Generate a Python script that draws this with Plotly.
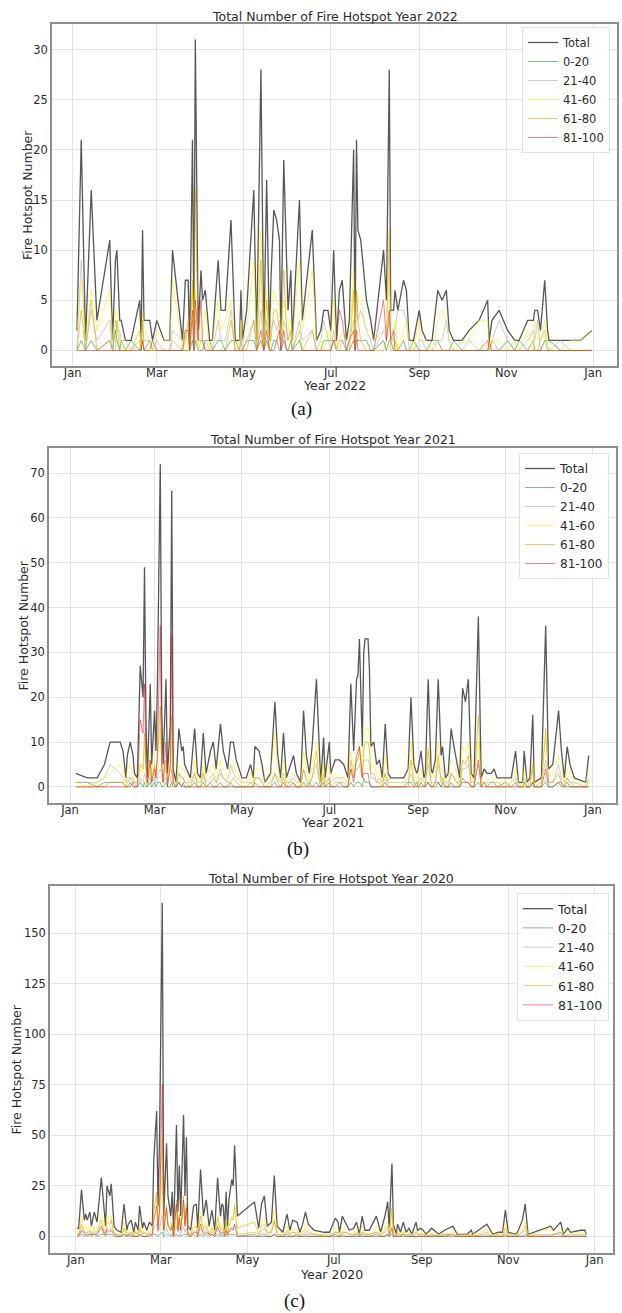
import plotly.graph_objects as go

W, H = 622, 1313

# ------------------------------------------------------------------ 2022
dates_2022 = ["01-04","01-07","01-10","01-14","01-18","01-27","01-29","01-31","02-01","02-03",
 "02-04","02-07","02-11","02-17","02-18","02-19","02-20","02-24","02-26","03-01",
 "03-06","03-10","03-12","03-19","03-21","03-23","03-24","03-26","03-27","03-28",
 "03-30","04-01","04-02","04-04","04-07","04-09","04-13","04-15","04-18","04-22",
 "04-25","04-28","04-29","04-30","05-03","05-08","05-10","05-13","05-15","05-17",
 "05-19","05-20","05-22","05-24","05-26","05-27","05-29","05-31","06-01","06-03",
 "06-04","06-09","06-11","06-18","06-21","06-24","06-26","06-29","07-01","07-03",
 "07-05","07-07","07-09","07-12","07-14","07-17","07-18","07-19","07-20","07-22",
 "07-26","07-29","07-31","08-07","08-09","08-11","08-12","08-14","08-15","08-17",
 "08-21","08-23","08-25","08-28","09-01","09-03","09-06","09-10","09-14","09-17",
 "09-20","09-22","09-25","10-01","10-06","10-13","10-19","10-20","10-22","10-27",
 "11-02","11-07","11-10","11-16","11-20","11-21","11-23","11-25","11-28","11-30",
 "12-01","12-09","12-16","12-23","12-31"]
total_2022 = [2,21,1,16,3,11,1,9,10,3, 3,1,1,5,1,12,3,3,1,3, 1,1,10,1,7,7,0,21,2,31,
 2,8,5,6,1,1,9,4,4,13, 1,1,6,1,4,16,1,28,1,17, 1,7,14,13,11,1,19,7,4,8,
 1,15,3,12,1,2,4,4,2,10, 1,6,7,1,3,20,1,21,12,11, 5,3,1,10,5,28,4,4,6,4,
 7,6,1,1,4,2,1,1,6,5, 6,2,1,1,2,3,5,1,3,4, 2,1,1,3,3,4,4,2,7,2, 1,1,1,1,2]
c0_20_2022 = [0,1,0,1,0,1,0,2,1,0, 1,0,1,0,1,1,0,1,0,0, 0,0,0,0,0,0,0,1,0,1,
 0,0,0,1,1,0,1,1,0,1, 1,0,0,0,1,1,0,1,0,1, 0,0,1,1,0,0,1,0,0,1,
 0,1,0,0,0,0,1,1,1,1, 0,0,0,0,0,1,0,1,1,1, 1,0,0,1,0,1,1,0,0,0,
 1,0,0,1,0,0,0,1,1,0, 0,0,1,0,0,0,0,0,0,0, 1,0,1,0,1,0,0,0,1,1, 1,0,0,0,0]
c21_40_2022 = [0,9,0,4,1,3,0,3,2,2, 1,1,0,2,0,3,1,1,0,1, 0,0,2,1,2,2,0,3,0,3,
 0,1,1,1,0,0,3,1,1,4, 0,0,2,0,1,3,0,4,0,3, 0,2,3,2,3,0,3,2,1,2,
 0,3,1,2,0,1,3,1,0,2, 0,0,1,0,1,3,0,6,3,4, 2,1,0,2,1,3,1,1,2,4,
 4,3,0,0,1,1,0,0,1,1, 3,1,0,0,1,0,1,0,1,3, 1,0,0,1,2,1,3,0,1,0, 0,1,0,0,0]
c41_60_2022 = [2,7,1,6,2,6,1,4,4,1, 1,0,0,2,0,4,2,1,0,2, 1,1,7,0,2,0,0,6,1,6,
 0,1,2,4,0,1,5,2,3,5, 0,1,3,1,2,9,1,12,1,6, 0,4,6,5,4,1,5,3,2,3,
 1,9,2,8,1,1,0,2,1,5, 0,1,2,1,1,8,1,6,5,5, 2,2,1,2,2,8,1,1,3,0,
 2,3,1,0,3,1,1,0,3,4, 3,1,0,1,1,3,3,0,1,1, 0,1,0,2,0,3,1,1,3,1, 0,0,1,1,2]
c61_80_2022 = [0,4,0,5,0,1,0,0,3,0, 0,0,0,1,0,3,0,0,0,0, 0,0,1,0,1,3,0,7,1,16,
 1,1,1,0,0,0,0,0,0,3, 0,0,1,0,0,3,0,9,0,5, 1,1,4,4,2,0,8,2,1,2,
 0,2,0,2,0,0,0,0,0,1, 0,1,1,0,0,6,0,6,3,1, 0,0,0,0,1,12,0,0,1,0,
 0,0,0,0,0,0,0,0,0,0, 0,0,0,0,0,0,1,0,1,0, 0,0,0,0,0,0,0,1,2,0, 0,0,0,0,0]
c81_100_2022 = [0,0,0,0,0,0,0,0,0,0, 0,0,0,0,0,1,0,0,1,0, 0,0,0,0,2,2,0,4,0,5,
 1,5,1,0,0,0,0,0,0,0, 0,0,0,0,0,0,0,2,0,2, 0,0,0,1,2,0,2,0,0,0,
 0,0,0,0,0,0,0,0,0,1, 1,4,3,0,1,2,0,2,0,0, 0,0,0,5,1,4,1,2,0,0,
 0,0,0,0,0,0,0,0,0,0, 0,0,0,0,0,0,0,1,0,0, 0,0,0,0,0,0,0,0,0,0, 0,0,0,0,0]

# ------------------------------------------------------------------ 2021
dates_2021 = ["01-05","01-13","01-20","01-25","01-29","02-05","02-07","02-09","02-10","02-12",
 "02-14","02-15","02-17","02-19","02-21","02-22","02-23","02-24","02-26","02-27",
 "03-01","03-02","03-03","03-05","03-06","03-07","03-09","03-10","03-12","03-13",
 "03-14","03-16","03-18","03-20","03-21","03-22","03-26","03-29","03-31","04-02",
 "04-04","04-06","04-09","04-11","04-13","04-16","04-18","04-21","04-23","04-25",
 "04-27","05-01","05-04","05-07","05-09","05-10","05-13","05-15","05-17","05-21",
 "05-24","05-26","05-28","05-30","06-01","06-03","06-06","06-08","06-11","06-13",
 "06-15","06-17","06-19","06-22","06-24","06-25","06-27","06-28","07-01","07-02",
 "07-05","07-08","07-11","07-14","07-16","07-18","07-20","07-21","07-22","07-24",
 "07-25","07-26","07-28","07-29","07-30","08-01","08-03","08-05","08-07","08-09",
 "08-11","08-13","08-17","08-22","08-25","08-27","08-29","08-31","09-01","09-03",
 "09-05","09-06","09-08","09-10","09-11","09-13","09-15","09-17","09-18","09-20",
 "09-22","09-24","09-26","09-28","09-30","10-02","10-04","10-06","10-08","10-10",
 "10-13","10-15","10-17","10-19","10-22","10-24","10-26","11-01","11-05","11-08",
 "11-10","11-13","11-14","11-16","11-18","11-20","11-21","11-26","11-29","12-01",
 "12-04","12-08","12-10","12-12","12-14","12-16","12-19","12-27","12-29"]
total_2021 = [3,2,2,5,10,10,8,2,7,10, 7,3,2,27,20,49,15,2,23,5, 17,8,23,72,17,5,24,3,14,66,
 4,1,13,8,9,5,2,13,3,2, 12,3,8,10,4,14,8,4,10,10, 6,2,2,5,2,9,8,5,1,3,
 19,7,2,12,2,4,7,3,1,17, 7,3,9,24,7,1,11,2,10,3, 6,6,5,2,23,8,24,25,33,9,
 30,33,33,26,9,10,5,6,2,14, 3,2,2,2,4,20,5,3,4,8, 2,3,24,4,3,6,24,7,9,2,
 3,13,9,5,2,22,19,24,3,2, 38,2,4,3,3,4,2,2,2,8, 1,1,8,1,2,16,1,2,36,4,
 5,17,8,2,9,5,2,1,7]
c0_20_2021 = [1,1,0,1,1,1,1,0,0,1, 0,0,0,1,0,1,0,0,1,0, 1,0,1,1,0,0,1,0,0,1,
 0,0,1,0,1,0,0,1,0,0, 1,0,1,0,0,1,0,0,1,0, 0,0,0,0,0,1,0,0,0,0,
 1,0,0,1,0,0,1,0,0,1, 0,1,0,1,0,0,1,0,1,0, 0,1,0,0,1,0,1,1,1,0,
 2,1,1,1,0,0,0,0,0,1, 0,0,0,0,1,1,0,1,0,1, 0,1,1,0,0,1,1,0,1,0,
 0,1,0,0,0,2,1,1,0,0, 1,0,1,0,1,1,0,1,0,1, 0,0,1,0,0,1,0,0,1,0,
 0,1,0,0,1,0,0,0,0]
c21_40_2021 = [1,1,1,2,5,3,2,1,2,2, 2,1,0,2,1,3,2,0,2,1, 2,1,2,4,2,1,2,1,1,4,
 1,0,3,2,2,1,1,3,1,1, 3,1,2,3,1,4,2,1,5,3, 2,1,1,1,1,2,2,1,0,1,
 3,2,1,3,1,1,2,1,1,4, 2,1,2,5,2,0,2,1,2,1, 2,2,2,1,4,2,4,4,5,2,
 6,6,6,5,2,2,1,2,1,3, 1,1,1,1,1,3,1,1,1,2, 1,1,5,1,1,1,5,2,2,1,
 1,3,2,1,1,4,4,5,1,1, 5,1,1,1,1,1,1,0,1,2, 0,1,2,0,1,4,0,1,6,1,
 1,5,2,1,2,1,1,0,2]
c41_60_2021 = [1,0,1,2,3,5,4,1,4,5, 3,1,1,4,3,10,4,1,8,2, 5,3,6,13,5,2,5,1,4,11,
 1,1,5,4,4,3,1,6,2,1, 5,2,4,5,2,6,4,2,3,5, 3,1,1,3,1,4,4,3,1,2,
 12,4,1,6,1,2,3,2,0,8, 4,1,5,10,4,1,5,1,5,2, 3,2,2,1,8,3,6,6,9,3,
 11,13,13,11,4,5,3,3,1,7, 2,1,1,1,2,10,3,1,2,4, 1,1,9,2,2,3,10,4,4,1,
 2,6,5,3,1,9,8,10,2,1, 10,1,1,2,1,2,1,1,1,4, 1,0,4,1,1,5,1,1,12,2,
 3,7,4,1,4,3,1,1,4]
c61_80_2021 = [0,0,0,0,1,1,1,0,1,2, 1,1,1,5,4,12,4,0,6,1, 5,2,6,18,5,1,6,1,4,16,
 1,0,3,2,2,1,0,3,0,0, 3,0,1,2,1,3,2,1,1,2, 1,0,0,1,0,2,2,1,0,0,
 3,1,0,2,0,1,1,0,0,4, 1,0,2,8,1,0,3,0,2,0, 1,1,1,0,6,2,6,6,9,2,
 8,10,10,8,3,3,1,1,0,3, 0,0,0,0,0,6,1,0,1,1, 0,0,8,1,0,1,7,1,2,0,
 0,3,2,1,0,6,5,7,0,0, 16,0,1,0,0,0,0,0,0,1, 0,0,1,0,0,5,0,0,13,1,
 1,3,1,0,2,1,0,0,1]
c81_100_2021 = [0,0,0,0,0,0,0,0,0,0, 1,0,0,15,12,23,5,1,6,1, 4,2,8,36,5,1,10,0,5,34,
 1,0,1,0,0,0,0,0,0,0, 0,0,0,0,0,0,0,0,0,0, 0,0,0,0,0,0,0,0,0,0,
 0,0,0,0,0,0,0,0,0,0, 0,0,0,0,0,0,0,0,0,0, 0,0,0,0,4,1,7,8,9,2,
 3,3,3,1,0,0,0,0,0,0, 0,0,0,0,0,0,0,0,0,0, 0,0,1,0,0,0,1,0,0,0,
 0,0,0,0,0,1,1,1,0,0, 6,0,0,0,0,0,0,0,0,0, 0,0,0,0,0,1,0,0,4,0,
 0,1,1,0,0,0,0,0,0]

# ------------------------------------------------------------------ 2020
dates_2020 = ["01-02","01-03","01-05","01-07","01-08","01-09","01-11","01-12","01-14","01-16",
 "01-19","01-21","01-22","01-23","01-25","01-26","01-28","01-30","02-02","02-04",
 "02-06","02-07","02-09","02-11","02-12","02-14","02-15","02-17","02-18","02-20",
 "02-22","02-24","02-25","02-27","02-28","02-29","03-02","03-03","03-05","03-06",
 "03-08","03-09","03-10","03-12","03-13","03-14","03-15","03-17","03-18","03-19",
 "03-20","03-22","03-24","03-26","03-27","03-29","03-31","04-02","04-04","04-06",
 "04-08","04-10","04-12","04-13","04-14","04-15","04-16","04-17","04-18","04-20",
 "04-21","04-22","04-24","05-06","05-09","05-11","05-13","05-15","05-18","05-20",
 "05-22","05-26","05-29","05-31","06-02","06-05","06-07","06-09","06-11","06-13",
 "06-17","06-24","06-28","07-02","07-04","07-05","07-07","07-09","07-12","07-15",
 "07-17","07-19","07-21","07-23","07-26","07-31","08-03","08-06","08-08","08-09",
 "08-11","08-12","08-14","08-15","08-17","08-19","08-21","08-23","08-25","08-28",
 "08-29","08-31","09-02","09-04","09-08","09-13","09-17","09-23","09-26","10-03",
 "10-06","10-07","10-17","10-21","10-25","10-28","10-30","11-01","11-07","11-11",
 "11-13","11-15","11-19","12-01","12-03","12-08","12-10","12-13","12-15","12-22",
 "12-25","12-26"]
total_2020 = [4,4,23,8,11,8,12,5,12,7, 29,10,5,25,20,26,5,3,2,16, 3,6,8,2,7,3,15,4,7,3,
 7,5,38,62,15,46,165,10,46,20, 10,22,3,55,12,35,10,60,20,49, 5,3,15,16,4,33,10,18,5,13,
 3,29,10,16,15,3,22,5,18,28, 25,45,10,17,4,16,20,5,7,30, 5,2,11,3,8,7,2,6,12,6,
 3,2,2,9,7,2,10,7,3,4, 7,1,10,3,3,10,2,10,17,4, 36,6,1,6,2,7,2,4,1,7,
 3,4,3,1,4,1,3,5,1,1, 3,1,6,1,2,2,13,2,1,8, 16,1,2,5,3,7,1,4,2,3, 3,1]
c0_20_2020 = [0,1,1,0,1,0,1,0,1,0, 1,1,0,1,1,1,0,0,0,1, 0,0,1,0,0,0,1,0,0,0,
 1,0,1,1,0,1,2,0,1,1, 0,1,0,1,0,1,0,1,1,1, 0,0,1,0,0,1,0,1,0,1,
 0,1,0,1,0,0,1,0,1,1, 1,1,0,1,0,1,1,0,0,1, 0,0,1,0,0,1,0,0,1,0,
 0,0,0,1,0,0,1,0,0,0, 1,0,1,0,0,1,0,0,1,0, 1,0,0,0,0,1,0,0,0,0,
 0,0,0,0,0,0,0,1,0,0, 0,0,0,0,0,0,1,0,0,0, 1,0,0,0,1,2,0,0,0,0, 0,0]
c21_40_2020 = [1,1,3,2,2,2,2,1,2,1, 4,2,1,4,3,4,1,1,1,3, 1,1,2,1,2,1,3,1,2,1,
 1,1,4,6,2,4,10,1,4,2, 1,2,1,5,2,4,1,5,2,4, 1,1,2,3,1,4,2,3,1,2,
 1,4,2,3,3,1,3,1,3,4, 4,6,4,7,1,5,6,2,2,7, 1,1,2,1,2,2,1,1,2,1,
 1,1,1,2,2,1,2,2,1,1, 1,0,2,1,1,2,1,2,3,1, 5,1,0,1,1,1,1,1,0,2,
 1,1,1,0,1,0,1,1,0,0, 1,0,1,0,1,1,2,1,0,2, 3,0,1,1,1,1,0,1,1,1, 1,0]
c41_60_2020 = [2,1,10,3,5,3,5,2,5,3, 11,4,2,10,8,10,2,1,1,7, 1,3,3,1,3,1,6,2,3,1,
 3,2,12,18,5,13,30,3,12,6, 3,7,1,15,4,10,3,16,6,14, 2,1,6,6,2,12,4,7,2,5,
 1,10,4,6,6,1,8,2,7,10, 9,17,5,7,2,7,9,2,3,13, 3,1,5,1,4,3,1,3,6,3,
 1,1,1,4,3,1,5,3,1,2, 3,1,5,1,1,5,1,5,7,2, 12,3,1,3,1,3,1,2,1,3,
 1,2,1,1,2,1,1,2,1,1, 1,1,3,1,1,1,6,1,1,4, 7,1,1,4,1,4,1,3,1,2, 2,1]
c61_80_2020 = [1,1,6,2,2,2,3,1,3,2, 8,2,1,7,6,8,1,1,0,4, 1,1,2,0,2,1,4,1,2,1,
 2,1,13,22,5,16,48,3,15,6, 3,7,1,18,3,11,3,20,6,16, 1,1,4,5,1,10,3,5,1,4,
 1,9,3,4,4,1,7,1,5,9, 8,15,1,2,1,3,4,1,2,8, 1,0,3,1,2,1,0,2,3,2,
 1,0,0,2,2,0,2,2,1,1, 2,0,2,1,1,2,0,3,5,1, 14,2,0,2,0,2,0,1,0,2,
 1,1,1,0,1,0,1,1,0,0, 1,0,2,0,0,0,4,0,0,2, 5,0,0,0,0,0,0,0,0,0, 0,0]
c81_100_2020 = [0,0,3,1,1,1,1,1,1,1, 5,1,1,3,2,3,1,0,0,1, 0,1,0,0,0,0,1,0,0,0,
 0,1,8,15,3,12,75,3,14,5, 3,5,0,16,3,9,3,18,5,14, 1,0,2,2,0,6,1,2,1,1,
 0,5,1,2,2,0,3,1,2,4, 3,6,0,0,0,0,0,0,0,1, 0,0,0,0,0,0,0,0,0,0,
 0,0,0,0,0,0,0,0,0,0, 0,0,0,0,0,0,0,0,1,0, 4,0,0,0,0,0,0,0,0,0,
 0,0,0,0,0,0,0,0,0,0, 0,0,0,0,0,0,0,0,0,0, 0,0,0,0,0,0,0,0,0,0, 0,0]

series_names = ["Total", "0-20", "21-40", "41-60", "61-80", "81-100"]
series_colors = ["rgba(45,45,45,0.8)", "rgba(0,128,0,0.5)", "rgba(165,165,175,0.55)",
                 "rgba(255,238,0,0.55)", "rgba(225,165,0,0.6)", "rgba(225,30,30,0.55)"]
series_widths = [1.3, 1.0, 1.0, 1.0, 1.0, 1.0]

FONT = "DejaVu Sans"
TXT = "#2b2b2b"

panels = [
    dict(year=2022, dates=dates_2022,
         vals=[total_2022, c0_20_2022, c21_40_2022, c41_60_2022, c61_80_2022, c81_100_2022],
         xpx=(52, 617), ypx=(24, 366), xr=("2021-12-17 12:00", "2023-01-17 16:00"),
         yr=(-1.55, 32.55), dtick=5, leg=(522, 27), legfs=11.5, title_y=16, xlab_y=385,
         ylab_x=27, cap="(a)", cap_x=301, cap_y=409),
    dict(year=2021, dates=dates_2021,
         vals=[total_2021, c0_20_2021, c21_40_2021, c41_60_2021, c61_80_2021, c81_100_2021],
         xpx=(49, 616), ypx=(448, 803), xr=("2020-12-17 08:00", "2022-01-17 02:00"),
         yr=(-3.6, 75.6), dtick=10, leg=(519, 453), legfs=12, title_y=440, xlab_y=822,
         ylab_x=23, cap="(b)", cap_x=298, cap_y=849),
    dict(year=2020, dates=dates_2020,
         vals=[total_2020, c0_20_2020, c21_40_2020, c41_60_2020, c61_80_2020, c81_100_2020],
         xpx=(50, 613), ypx=(886, 1253), xr=("2019-12-13 19:00", "2021-01-13 22:00"),
         yr=(-8.25, 173.25), dtick=25, leg=(517, 893), legfs=12.5, title_y=878, xlab_y=1274,
         ylab_x=16, cap="(c)", cap_x=294, cap_y=1301),
]

fig = go.Figure()
annotations = []
layout = {}

for i, p in enumerate(panels):
    k = "" if i == 0 else str(i + 1)
    legname = "legend" if i == 0 else f"legend{i+1}"
    xs = [f"{p['year']}-{d}" for d in p["dates"]]
    for j, name in enumerate(series_names):
        fig.add_trace(go.Scatter(
            x=xs, y=p["vals"][j], mode="lines", name=name,
            line=dict(color=series_colors[j], width=series_widths[j]),
            xaxis="x" + k, yaxis="y" + k, legend=legname, hoverinfo="skip"))
    x0, x1 = p["xpx"]
    yt, yb = p["ypx"]
    layout["xaxis" + k] = dict(
        domain=[x0 / W, x1 / W], anchor="y" + k, type="date", range=list(p["xr"]),
        tick0=f"{p['year']}-01-01", dtick="M2", tickformat="%b",
        showgrid=True, gridcolor="#e4e4e4", gridwidth=1, zeroline=False,
        showline=True, mirror=True, linecolor="#8e8e8e", linewidth=1.6, ticks="",
        ticklabelstandoff=-5,
        tickfont=dict(family=FONT, size=11.5, color=TXT))
    layout["yaxis" + k] = dict(
        domain=[1 - yb / H, 1 - yt / H], anchor="x" + k, range=list(p["yr"]),
        tick0=0, dtick=p["dtick"], showgrid=True, gridcolor="#e4e4e4", gridwidth=1,
        zeroline=False, showline=True, mirror=True, linecolor="#8e8e8e", linewidth=1.6,
        ticks="", tickfont=dict(family=FONT, size=11.5, color=TXT))
    layout[legname] = dict(
        x=p["leg"][0] / W, y=1 - p["leg"][1] / H, xanchor="left", yanchor="top",
        bgcolor="rgba(255,255,255,0.85)", bordercolor="#e2e2e2", borderwidth=1,
        font=dict(family=FONT, size=p["legfs"], color=TXT), tracegroupgap=0)
    xc = (x0 + x1) / 2 / W
    annotations.append(dict(text=f"Total Number of Fire Hotspot Year {p['year']}",
                            x=xc, y=1 - p["title_y"] / H, xref="paper", yref="paper",
                            showarrow=False, xanchor="center", yanchor="middle",
                            font=dict(family=FONT, size=12.5, color=TXT)))
    annotations.append(dict(text=f"Year {p['year']}", x=xc, y=1 - p["xlab_y"] / H,
                            xref="paper", yref="paper", showarrow=False,
                            xanchor="center", yanchor="middle",
                            font=dict(family=FONT, size=12.5, color=TXT)))
    annotations.append(dict(text="Fire Hotspot Number", textangle=-90,
                            x=p["ylab_x"] / W, y=1 - (yt + yb) / 2 / H,
                            xref="paper", yref="paper", showarrow=False,
                            xanchor="center", yanchor="middle",
                            font=dict(family=FONT, size=12.5, color=TXT)))
    annotations.append(dict(text=p["cap"], x=p["cap_x"] / W, y=1 - p["cap_y"] / H,
                            xref="paper", yref="paper", showarrow=False,
                            xanchor="center", yanchor="middle",
                            font=dict(family="Liberation Serif", size=19, color="#111")))

fig.update_layout(
    width=W, height=H, margin=dict(l=0, r=0, t=0, b=0),
    paper_bgcolor="white", plot_bgcolor="white", showlegend=True,
    annotations=annotations, **layout)

fig.write_html("out.html")
